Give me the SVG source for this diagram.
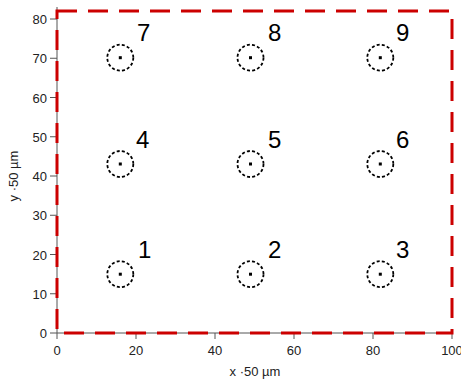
<svg xmlns="http://www.w3.org/2000/svg" width="461" height="381" viewBox="0 0 461 381">
<style>
.ax{stroke:#555;stroke-width:1;fill:none}
.tk{font-family:"Liberation Sans",Arial,sans-serif;font-size:13px;fill:#222}
.lb{font-family:"Liberation Sans",Arial,sans-serif;font-size:24px;fill:#000}
.c{fill:none;stroke:#000;stroke-width:1.8;stroke-dasharray:3,2.2}
.d{fill:#000}
</style>
<rect width="461" height="381" fill="#fff"/>
<g id="axes">
<path class="ax" d="M57,7V333H452"/>
<path class="ax" d="M50,333H57M50,293.75H57M50,254.5H57M50,215.25H57M50,176H57M50,136.75H57M50,97.5H57M50,58.25H57M50,19H57"/>
<path class="ax" d="M57,333V339M136,333V339M215,333V339M294,333V339M373,333V339M452,333V339"/>
<g class="tk" text-anchor="end">
<text x="47" y="338">0</text>
<text x="47" y="298.75">10</text>
<text x="47" y="259.5">20</text>
<text x="47" y="220.25">30</text>
<text x="47" y="181">40</text>
<text x="47" y="141.75">50</text>
<text x="47" y="102.5">60</text>
<text x="47" y="63.25">70</text>
<text x="47" y="24">80</text>
</g>
<g class="tk" text-anchor="middle">
<text x="57" y="355">0</text>
<text x="136" y="355">20</text>
<text x="215" y="355">40</text>
<text x="294" y="355">60</text>
<text x="373" y="355">80</text>
<text x="452" y="355">100</text>
</g>
<text class="tk" x="255" y="376" text-anchor="middle">x ·50 µm</text>
<text class="tk" transform="translate(18,176) rotate(-90)" text-anchor="middle">y ·50 µm</text>
</g>
<g id="region">
<rect x="57" y="11" width="395" height="322" fill="none" stroke="#cc0000" stroke-width="3" stroke-dasharray="20,11"/>
</g>
<g id="n1"><circle class="c" cx="120.3" cy="274.2" r="13"/><rect class="d" x="118.8" y="272.7" width="3" height="3"/><text class="lb" x="138" y="258">1</text></g>
<g id="n2"><circle class="c" cx="250.5" cy="274.2" r="13"/><rect class="d" x="249" y="272.7" width="3" height="3"/><text class="lb" x="268" y="258">2</text></g>
<g id="n3"><circle class="c" cx="380.3" cy="274.2" r="13"/><rect class="d" x="378.8" y="272.7" width="3" height="3"/><text class="lb" x="396" y="258">3</text></g>
<g id="n4"><circle class="c" cx="120.3" cy="164" r="13"/><rect class="d" x="118.8" y="162.5" width="3" height="3"/><text class="lb" x="136" y="148">4</text></g>
<g id="n5"><circle class="c" cx="250.5" cy="164" r="13"/><rect class="d" x="249" y="162.5" width="3" height="3"/><text class="lb" x="268" y="148">5</text></g>
<g id="n6"><circle class="c" cx="380.3" cy="164" r="13"/><rect class="d" x="378.8" y="162.5" width="3" height="3"/><text class="lb" x="396" y="148">6</text></g>
<g id="n7"><circle class="c" cx="120.3" cy="57.7" r="13"/><rect class="d" x="118.8" y="56.2" width="3" height="3"/><text class="lb" x="137" y="41">7</text></g>
<g id="n8"><circle class="c" cx="250.5" cy="57.7" r="13"/><rect class="d" x="249" y="56.2" width="3" height="3"/><text class="lb" x="268" y="41">8</text></g>
<g id="n9"><circle class="c" cx="380.3" cy="57.7" r="13"/><rect class="d" x="378.8" y="56.2" width="3" height="3"/><text class="lb" x="396" y="41">9</text></g>
</svg>
